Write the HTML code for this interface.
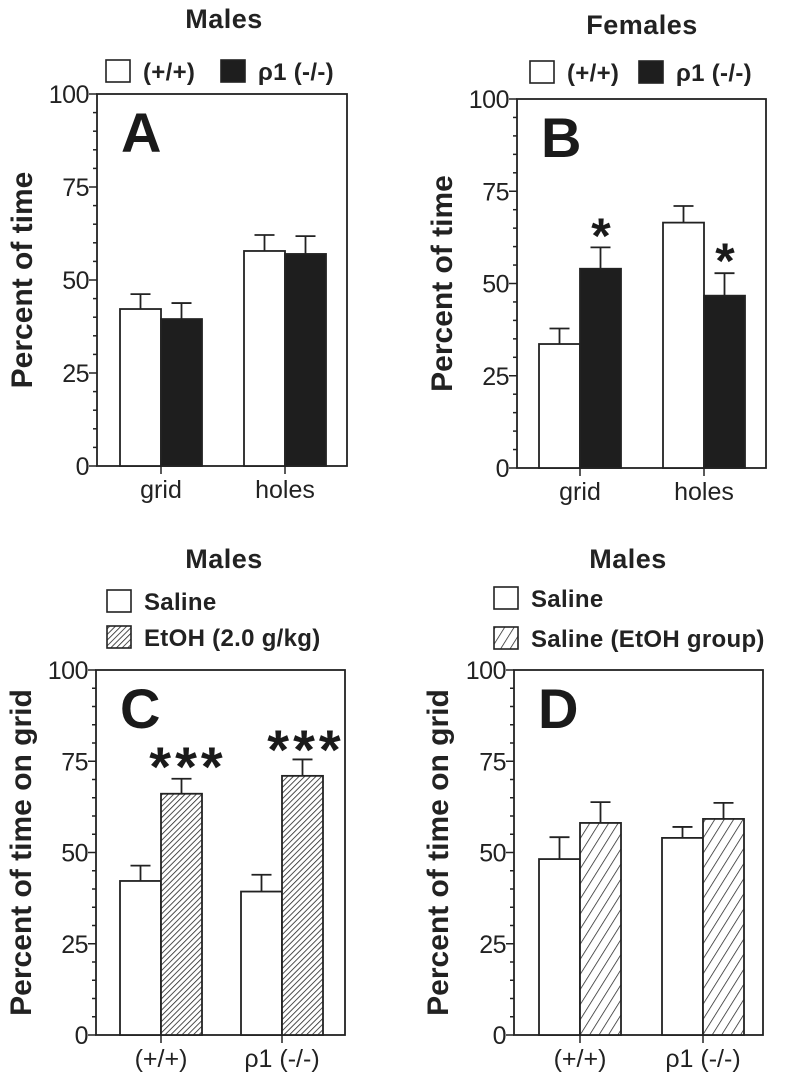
<!DOCTYPE html>
<html><head><meta charset="utf-8">
<style>
html,body{margin:0;padding:0;background:#fff;}
svg{display:block;font-family:"Liberation Sans",Arial,sans-serif;}
</style></head>
<body>
<svg id="fig" width="795" height="1082" viewBox="0 0 795 1082" xmlns="http://www.w3.org/2000/svg">
<defs>
<pattern id="hatchC" patternUnits="userSpaceOnUse" width="4" height="4" patternTransform="rotate(45)">
<rect width="4" height="4" fill="#fff"/><line x1="0" y1="0" x2="0" y2="4" stroke="#222" stroke-width="1.6"/>
</pattern>
<pattern id="hatchD" patternUnits="userSpaceOnUse" width="8" height="8" patternTransform="rotate(32)">
<rect width="8" height="8" fill="#fff"/><line x1="0" y1="0" x2="0" y2="8" stroke="#222" stroke-width="1.5"/>
</pattern>
</defs>
</svg>
<script>
const yTicks = [0, 25, 50, 75, 100];
const catsAB = ["grid", "holes"];
const catsCD = ["(+/+)", "\u03c11 (-/-)"];
const aWild = [42.2, 57.8];
const aWildErr = [4.0, 4.3];
const aKO = [39.5, 57.0];
const aKOErr = [4.3, 4.8];
const bWild = [33.6, 66.5];
const bWildErr = [4.2, 4.5];
const bKO = [54.0, 46.7];
const bKOErr = [5.8, 6.1];
const cSaline = [42.2, 39.3];
const cSalineErr = [4.2, 4.6];
const cEtOH = [66.1, 71.0];
const cEtOHErr = [4.1, 4.5];
const dSaline = [48.2, 54.0];
const dSalineErr = [6.0, 3.0];
const dSalEtOH = [58.1, 59.2];
const dSalEtOHErr = [5.7, 4.4];

const NS = "http://www.w3.org/2000/svg";
const svg = document.getElementById("fig");
function mk(tag, attrs, parent) {
  const e = document.createElementNS(NS, tag);
  for (const k in attrs) e.setAttribute(k, attrs[k]);
  (parent || svg).appendChild(e);
  return e;
}
function txt(s, attrs, parent) { const t = mk("text", attrs, parent); t.textContent = s; return t; }

function panel(p) {
  const g = mk("g", {});
  
  
  const y = v => p.bottom - (v / 100) * (p.bottom - p.top);
  const fr = mk("rect", {x: p.left, y: p.top, width: p.right - p.left, height: p.bottom - p.top, fill: "none", stroke: "#222", "stroke-width": 1.8}, g);
  
  
  for (let v = 0; v <= 100; v += 5) {
    const major = v % 25 === 0;
    const tk = mk("line", {x1: p.left - (major ? 8 : 4), x2: p.left, y1: y(v), y2: y(v), stroke: "#222", "stroke-width": 1.5}, g);
    
    
  }
  yTicks.forEach(v => {
    const t = txt(String(v), {x: p.left - 8, y: y(v) + 9, "text-anchor": "end", "font-size": 25, "letter-spacing": -0.5, fill: "#222"}, g);
    
    
  });
  const yt = txt(p.ytitle, {x: 0, y: 0, "text-anchor": "middle", "font-size": 30, "font-weight": "bold", fill: "#222", transform: `translate(${p.ytx},${(p.top + p.bottom) / 2}) rotate(-90)`}, g);
  
  
  const pl = txt(p.letter, {x: p.left + 24, y: p.top + 58, "font-size": 56, "font-weight": "bold", fill: "#1a1a1a"}, g);
  
  
  const bw = 41;
  p.cats.forEach((c, i) => {
    const cx = p.centers[i];
    [[p.s1, p.e1, p.f1, -1], [p.s2, p.e2, p.f2, 0]].forEach(([vals, errs, fill, off], j) => {
      const x0 = cx + off * bw;
      const top = y(vals[i]), etop = y(vals[i] + errs[i]);
      const el = mk("line", {x1: x0 + bw / 2, x2: x0 + bw / 2, y1: top, y2: etop, stroke: "#222", "stroke-width": 1.8}, g);
      
      
      const ec = mk("line", {x1: x0 + bw / 2 - 10, x2: x0 + bw / 2 + 10, y1: etop, y2: etop, stroke: "#222", "stroke-width": 1.8}, g);
      
      
      const r = mk("rect", {x: x0, y: top, width: bw, height: p.bottom - top, fill: fill, stroke: "#222", "stroke-width": 1.8}, g);
      
      
    });
    const xt = mk("line", {x1: cx, x2: cx, y1: p.bottom, y2: p.bottom + 8, stroke: "#222", "stroke-width": 1.5}, g);
    
    
    const xl = txt(c, {x: cx, y: p.bottom + 32, "text-anchor": "middle", "font-size": 25, fill: "#222"}, g);
    
    
  });
  (p.stars || []).forEach(s => {
    const st = txt(s.t, {x: s.x, y: y(s.v) + 0.46 * s.fs, "text-anchor": "middle", "font-size": s.fs, "font-weight": "bold", fill: "#1a1a1a", "letter-spacing": s.ls || 0}, g);
    
    
  });
  const ti = txt(p.title, {x: p.titleX, y: p.titleY, "text-anchor": "middle", "font-size": 27, "font-weight": "bold", "letter-spacing": 0.5, fill: "#222"}, g);
  
  
  p.legend.forEach(L => {
    const b = mk("rect", {x: L.x, y: L.y, width: 24, height: 22, fill: L.fill, stroke: "#222", "stroke-width": 1.6}, g);
    
    
    const lt = txt(L.t, {x: L.x + 37, y: L.y + 20, "font-size": 24, "font-weight": "bold", "letter-spacing": 0.3, fill: "#222"}, g);
    
    
  });
}

panel({name: "panel-a", letter: "A", title: "Males", titleX: 224, titleY: 28, left: 97, right: 347, top: 94, bottom: 466,
  ytitle: "Percent of time", ytx: 32, cats: catsAB, centers: [161, 285],
  s1: aWild, e1: aWildErr, f1: "#fff", s2: aKO, e2: aKOErr, f2: "#1e1e1e",
  legend: [{x: 106, y: 60, fill: "#fff", t: "(+/+)"}, {x: 221, y: 60, fill: "#1e1e1e", t: "\u03c11 (-/-)"}]});

panel({name: "panel-b", letter: "B", title: "Females", titleX: 642, titleY: 34, left: 517, right: 766, top: 99, bottom: 468,
  ytitle: "Percent of time", ytx: 452, cats: catsAB, centers: [580, 704],
  s1: bWild, e1: bWildErr, f1: "#fff", s2: bKO, e2: bKOErr, f2: "#1e1e1e",
  legend: [{x: 530, y: 61, fill: "#fff", t: "(+/+)"}, {x: 639, y: 61, fill: "#1e1e1e", t: "\u03c11 (-/-)"}],
  stars: [{t: "*", x: 601, v: 64.5, fs: 50}, {t: "*", x: 725, v: 57.7, fs: 50}]});

panel({name: "panel-c", letter: "C", title: "Males", titleX: 224, titleY: 568, left: 96, right: 345, top: 670, bottom: 1035,
  ytitle: "Percent of time on grid", ytx: 31, cats: catsCD, centers: [161, 282],
  s1: cSaline, e1: cSalineErr, f1: "#fff", s2: cEtOH, e2: cEtOHErr, f2: "url(#hatchC)",
  legend: [{x: 107, y: 590, fill: "#fff", t: "Saline"}, {x: 107, y: 626, fill: "url(#hatchC)", t: "EtOH (2.0 g/kg)"}],
  stars: [{t: "***", x: 188, v: 75.3, fs: 56, ls: 4}, {t: "***", x: 306, v: 80.0, fs: 56, ls: 4}]});

panel({name: "panel-d", letter: "D", title: "Males", titleX: 628, titleY: 568, left: 514, right: 763, top: 670, bottom: 1035,
  ytitle: "Percent of time on grid", ytx: 448, cats: catsCD, centers: [580, 703],
  s1: dSaline, e1: dSalineErr, f1: "#fff", s2: dSalEtOH, e2: dSalEtOHErr, f2: "url(#hatchD)",
  legend: [{x: 494, y: 587, fill: "#fff", t: "Saline"}, {x: 494, y: 627, fill: "url(#hatchD)", t: "Saline (EtOH group)"}]});
</script>
</body></html>
